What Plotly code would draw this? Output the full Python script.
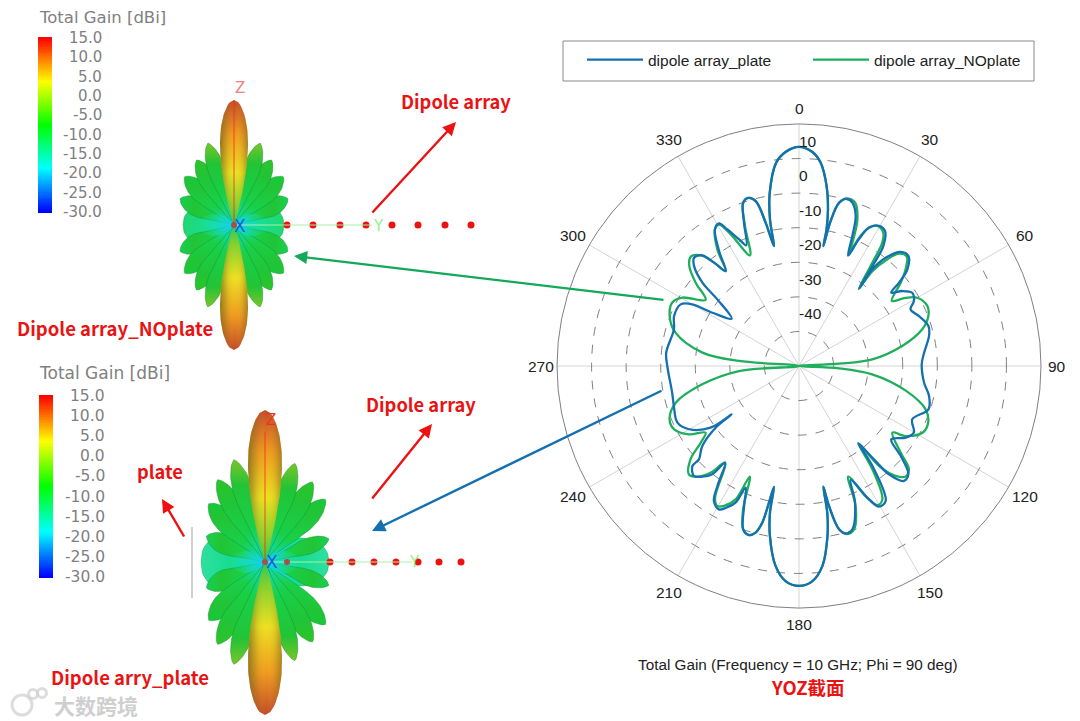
import numpy as np
import plotly.graph_objects as go

# ---------- polar cut data (theta in deg, total gain in dBi) ----------
plate_theta = [0,3.5,6.1,8.7,10.5,11.4,11.5,12.3,13.8,15.8,18.1,20.7,22.3,24,25.3,26.8,29.7,32.5,35.1,36.3,37.8,
               37.2,38.7,41.7,44.8,48.3,50.2,51.5,54,57.1,60.5,63.1,67.4,72.8,77,83.9,89.2,
               97.6,103,108.5,115.2,120.1,123.9,128.5,131.5,134.7,137.6,140.3,141.3,142.5,143.7,147.3,150.4,152.3,155.6,
               157.7,161.9,164.2,166.2,167.9,168.6,169.1,170.5,173.3,176.5,180,
               183.5,186.7,189.7,191.2,191.7,193.2,194.6,196.7,198.9,201.4,203.7,204.9,207.2,209.2,212.2,214.2,217.4,
               218.7,221.1,223.7,226.8,227,230.4,233.5,234.3,235.1,240.1,245,252.3,258,270,
               275.7,286.3,291.8,297.5,300,301.6,305.1,309.2,310.8,313.6,315.9,318.9,320.6,322.3,325.2,328.4,330.7,332.3,334.7,336.4,
               339,341.1,343.2,345.3,346.9,348.2,348.8,350.4,353.6,356.5,360]
plate_gain = [13.4,12.1,9.1,2.7,-4,-9.7,-14.6,-7.1,-1.4,0.3,-0.3,-3.6,-9.3,-15,-9.5,-5.2,-3.3,-3.7,-7.6,-14.1,-21.7,
              -14.9,-9.9,-5.8,-5.1,-8,-12.3,-15.9,-13.1,-11,-11.8,-13.8,-12.4,-10.8,-11.4,-13.6,-14.5,
              -13.5,-11.4,-10.5,-13.8,-11.6,-12.8,-15.9,-10.7,-5.5,-5,-9.3,-16,-21.8,-14.1,-3.6,-3.2,-6.4,-13.8,
              -7.3,-0.3,0.3,-1.4,-8.6,-14.4,-6.8,-0.1,8.2,12.4,13.6,
              12.4,8.2,-0.1,-6.8,-14.3,-3.4,-0.2,1,-0.1,-6.5,-11.6,-6.4,-3.9,-2.5,-3.8,-8,-14.8,
              -9.9,-7.5,-6,-7.7,-10.4,-13.7,-20,-26,-18.8,-13.3,-11.2,-12,-12.5,-11.9,
              -11.4,-12.3,-11.1,-11.4,-14.3,-20.6,-26.2,-19.5,-13.1,-8.1,-6.4,-7.5,-11.3,-15.3,-9.5,-3.6,-2.7,-5.4,-9.5,-11.9,
              -5.6,-0.1,0.8,-0.7,-7.4,-14.6,-6.8,0.8,9.2,12.1,13.4]

noplate_theta = [0,3.5,6.1,8.7,10.5,11.4,11.5,12.3,13.8,16.1,18.9,21.7,23.4,24,25.1,26.8,29.2,32.3,34,35.4,37.8,
                 37.7,39.6,41.7,44.6,47.8,50.7,55,57.4,60,65,68.9,73.4,79,84.8,86.7,90,
                 93.3,96.5,103,108.9,113.7,118.4,123.3,125.5,130.4,133.2,136,138.7,141.3,142.5,144.6,148,150.6,152.9,156,
                 158,161.4,164,166.2,167.9,168.6,169.1,170.5,173.3,176.5,180,
                 183.5,186.7,189.7,191.2,191.7,193.2,194.6,196.7,198.9,201.3,204,205.4,208.2,210.3,212.5,217.4,
                 219.6,222.6,225.4,229.3,232,234.5,238.2,243.1,247.6,253.4,259.3,265.2,270,
                 274.8,277.9,285.1,291.1,296.6,300.4,305.3,308.9,312.3,315.3,318.4,320.6,322.3,325,328.4,330.5,332.6,336.1,
                 338.9,341.1,343.2,345.3,346.9,348.2,348.8,350.4,353.6,356.5,360]
noplate_gain = [13.4,12.1,9.1,2.7,-4,-9.7,-14.6,-7.1,-1.4,0.4,0,-4.3,-11.1,-15,-9,-5.2,-3.6,-4.4,-6.9,-13.4,-21.7,
                -15.3,-10,-6.5,-5.6,-8.4,-12,-17.2,-13.4,-10.5,-9,-9.9,-12.8,-19.6,-28.7,-38.4,-50,
                -38.4,-28.7,-18.3,-11.3,-9.2,-9.4,-13.1,-16.8,-11.4,-6.4,-5.6,-7.7,-13,-21.8,-13.4,-4.5,-3.8,-7.7,-15,
                -6.3,-0.1,0.6,-1.4,-8.6,-14.4,-6.8,-0.1,8.2,12.4,13.6,
                12.4,8.2,-0.1,-6.8,-14.3,-3.4,-0.2,1,-0.1,-5.5,-15,-7.3,-4.1,-3.1,-4.8,-14.8,
                -10,-6.5,-5.3,-8.6,-13.9,-16.8,-12.5,-9.5,-9.5,-12.8,-21.5,-32.6,-50,
                -32.6,-21.8,-13,-9.9,-9,-10.9,-16.9,-11.6,-7.1,-5.5,-7.2,-11.3,-15.3,-8.8,-3.6,-3,-7.1,-15,
                -6.6,-0.1,0.8,-0.7,-7.4,-14.6,-6.8,0.8,9.2,12.1,13.4]

radial_ticks = [10, 0, -10, -20, -30, -40]
angle_ticks = list(range(0, 360, 30))
series_names = ["dipole array_plate", "dipole array_NOplate"]

# ---------- colour legends of the 3D views ----------
gain_ticks = ["15.0","10.0","5.0","0.0","-5.0","-10.0","-15.0","-20.0","-25.0","-30.0"]
gain_levels = np.arange(-30, 15.5, 0.5)

# ---------- 3D lobes: angle from +Z (deg), length, half width ----------
upper_lobes = [(17.7,86,8.5),(30,75,9),(45.6,69,9.5),(64,60,9.5)]
lower_lobes_r = [(16.9,103,9.5),(30.7,93,10),(44,87,10),(70,68,8)]
lower_lobes_l = [(17,107,10),(30,95,10),(44,81,11),(66,64,10)]

BLUE = "#1470b0"; GREEN = "#1fae5c"; RED = "#e81414"; GREY = "#808080"
JET = [[0,"#0000ff"],[0.25,"#00ffff"],[0.5,"#00ff00"],[0.75,"#ffff00"],[1,"#ff0000"]]
LOBE_COLS = ["#7cc428", "#2cc428", "#18c838", "#18d050"]

fig = go.Figure()
px = dict(xaxis="x", yaxis="y", hoverinfo="skip", showlegend=False)


def outline(cx, cy, ang, L, W, p=1.9, q=0.7):
    t = np.linspace(0, 1, 50)
    hw = W * np.sin(np.pi * t ** p) ** q
    s = np.r_[L * t, L * t[::-1]]
    n = np.r_[hw, -hw[::-1]]
    a = np.radians(ang)
    return cx + s * np.sin(a) + n * np.cos(a), cy - s * np.cos(a) + n * np.sin(a)


def lobe(cx, cy, ang, L, W, stops, p=1.9, q=0.7, edge=0.0):
    x, y = outline(cx, cy, ang, L, W, p, q)
    a = np.radians(ang)
    if abs(np.cos(a)) > 0.6:
        grad = dict(type="vertical", start=cy, stop=cy - L * np.cos(a), colorscale=stops)
    else:
        grad = dict(type="horizontal", start=cx, stop=cx + L * np.sin(a), colorscale=stops)
    fig.add_trace(go.Scatter(x=x, y=y, mode="lines", line=dict(width=edge, color="rgba(15,140,50,0.6)"),
                             fill="toself", fillgradient=grad, **px))


def beam(cx, cy, direction, L, W):
    ang = 0 if direction > 0 else 180
    stops = [[0, "#28c858"], [0.14, "#7cd030"], [0.42, "#ece022"], [0.72, "#f09a20"], [1, "#c24a2a"]]
    lobe(cx, cy, ang, L, W, stops, p=1.6, q=0.5)
    x, y = outline(cx, cy, ang, L, W, 1.6, 0.5)
    shade = [[0, "rgba(110,100,30,0.7)"], [0.3, "rgba(120,110,30,0.12)"], [0.55, "rgba(255,255,60,0)"],
             [0.8, "rgba(120,110,30,0.15)"], [1, "rgba(110,100,30,0.55)"]]
    fig.add_trace(go.Scatter(x=x, y=y, mode="lines", line=dict(width=0), fill="toself",
                             fillgradient=dict(type="horizontal", start=cx - W, stop=cx + W, colorscale=shade), **px))


def pattern(cx, cy, right, left, tipL, tipW, sides):
    # broad side lobes first
    for sgn, (reach, hw, colr) in zip((1, -1), sides):
        lobe(cx, cy, 90 * sgn, reach, hw, [[0, "#10d8e0"], [0.55, "#18dc90"], [1, colr]], p=1.2, q=0.4, edge=0.6)
    for tbl, sgn in ((right, 1), (left, -1)):
        for i in range(len(tbl) - 1, -1, -1):
            ang, L, W = tbl[i]
            st = [[0, "#14dcd0"], [0.35, "#18d048"], [0.75, "#22c436"], [1, LOBE_COLS[i]]]
            lobe(cx, cy, sgn * ang, L, W, st, edge=0.7)
            lobe(cx, cy, 180 - sgn * ang, L, W, st, edge=0.7)
    for sgn in (1, -1):
        lobe(cx, cy, 90 * sgn, 36, 11, [[0, "#10d0f0"], [1, "rgba(30,230,150,0)"]], p=1.1, q=0.6)
    beam(cx, cy, 1, tipL[0], tipW)
    beam(cx, cy, -1, tipL[1], tipW)


# upper pattern (no plate)
pattern(234, 225, upper_lobes, upper_lobes, (125, 125), 14, [(50, 20, "#20d870"), (51, 20, "#20d870")])
# lower pattern (plate)
pattern(265, 562, lower_lobes_r, lower_lobes_l, (152, 153), 17, [(64, 24, "#2ee0a0"), (64, 29, "#2ee0a0")])

# antenna axes and elements
upper_dots_x = [287, 313, 340, 366, 392, 418, 445, 471]
lower_dots_x = [330, 352, 374, 396, 418, 439, 461]
for xs, yy in ((upper_dots_x, 225), (lower_dots_x, 562)):
    fig.add_trace(go.Scatter(x=xs, y=[yy] * len(xs), mode="markers",
                             marker=dict(color="#ee1111", size=7), **px))
fig.add_trace(go.Scatter(x=[234, 372], y=[225, 225], mode="lines", line=dict(color="#a8f0a8", width=1), **px))
fig.add_trace(go.Scatter(x=[265, 412], y=[562, 562], mode="lines", line=dict(color="#a8f0a8", width=1), **px))
fig.add_trace(go.Scatter(x=[234, 234], y=[225, 100], mode="lines", line=dict(color="rgba(235,50,30,0.8)", width=1), **px))
fig.add_trace(go.Scatter(x=[265, 265], y=[562, 432], mode="lines", line=dict(color="rgba(235,50,30,0.8)", width=1), **px))
fig.add_trace(go.Scatter(x=[234, 265, 287], y=[225, 562, 562], mode="markers",
                         marker=dict(color="#a85048", size=6), **px))
# plate
fig.add_trace(go.Scatter(x=[192, 192], y=[527, 598], mode="lines", line=dict(color="#c0c0c0", width=1.5), **px))
# watermark logo
fig.add_trace(go.Scatter(x=[33, 42, 22], y=[694, 693, 705], mode="markers",
                         marker=dict(symbol="circle-open", size=[9, 9, 20], color="#cfcfcf", line=dict(width=3)), **px))

# colour bars
for x0, y0, y1 in ((38, 38, 212), (39, 396, 577)):
    fig.add_trace(go.Heatmap(x=[x0, x0 + 14], y=np.linspace(y1, y0, len(gain_levels)), z=gain_levels[:, None],
                             colorscale=JET, zmin=-30, zmax=15, showscale=False,
                             xaxis="x", yaxis="y", hoverinfo="skip"))

# polar traces (green below blue, as in the picture)
fig.add_trace(go.Scatterpolar(theta=noplate_theta, r=noplate_gain, mode="lines", name=series_names[1],
                              line=dict(color=GREEN, width=2.3, shape="spline", smoothing=1.0), hoverinfo="skip"))
fig.add_trace(go.Scatterpolar(theta=plate_theta, r=plate_gain, mode="lines", name=series_names[0],
                              line=dict(color=BLUE, width=2.3, shape="spline", smoothing=1.0), hoverinfo="skip"))
fig.add_trace(go.Scatterpolar(theta=[0] * len(radial_ticks), r=[v + 4.6 for v in radial_ticks],
                              text=[str(v) for v in radial_ticks], mode="text", textposition="middle right",
                              textfont=dict(family="Liberation Sans", size=15.5, color="#222222"),
                              showlegend=False, hoverinfo="skip"))

W, H = 1080, 721
annotations = []


def txt(x, y, s, size, color, family="Noto Sans CJK SC", bold=False, anchor="center"):
    annotations.append(dict(x=x, y=y, xref="x", yref="y", text=f"<b>{s}</b>" if bold else s, showarrow=False,
                            xanchor=anchor, yanchor="middle", font=dict(family=family, size=size, color=color)))


def arrow(tail, tip, color, width=2.4):
    annotations.append(dict(x=tip[0], y=tip[1], ax=tail[0], ay=tail[1], xref="x", yref="y", axref="x", ayref="y",
                            text="", showarrow=True, arrowhead=2, arrowsize=1.1, arrowwidth=width, arrowcolor=color))


for i, s in enumerate(gain_ticks):
    txt(104, 38 + i * (212 - 38) / 9, s, 15, GREY, "DejaVu Sans", anchor="right")
    txt(107, 396 + i * (577 - 396) / 9, s, 15.5, GREY, "DejaVu Sans", anchor="right")
for a in angle_ticks:
    R = 258 if a % 90 == 0 else 261
    txt(799 + R * np.sin(np.radians(a)), 366 - R * np.cos(np.radians(a)), str(a), 15.5, "#222222", "Liberation Sans")
txt(37, 17, "Total Gain [dBi]", 16.5, GREY, "DejaVu Sans", anchor="left")
txt(37, 373, "Total Gain [dBi]", 17, GREY, "DejaVu Sans", anchor="left")
txt(456, 101, "Dipole array", 18.3, RED, bold=True)
txt(115, 328, "Dipole array_NOplate", 18.5, RED, bold=True)
txt(421, 404, "Dipole array", 18.3, RED, bold=True)
txt(160, 471, "plate", 18.3, RED, bold=True)
txt(130, 677, "Dipole arry_plate", 18.5, RED, bold=True)
txt(798, 664, "Total Gain (Frequency = 10 GHz; Phi = 90 deg)", 15.3, "#222222", "Liberation Sans")
txt(808, 687, "YOZ截面", 18.5, RED, bold=True)
txt(96, 705, "大数跨境", 21, "#cfcfcf", bold=True)
txt(240, 88, "Z", 15, "#f08080", "DejaVu Sans")
txt(271, 420, "Z", 15, "#ee3322", "DejaVu Sans")
txt(240, 226, "X", 17, "#1060e0", "DejaVu Sans")
txt(272, 562, "X", 17, "#1060e0", "DejaVu Sans")
txt(378, 226, "Y", 15, "#90f090", "DejaVu Sans")
txt(414, 562, "Y", 15, "#90f090", "DejaVu Sans")

arrow((371, 214), (456, 122), "#ee1111")
arrow((371, 500), (432, 424), "#ee1111")
arrow((185, 538), (162, 499), "#ee1111")
arrow((665, 300), (294, 256), "#13a85a")
arrow((663, 390), (372, 531), BLUE)

fig.update_layout(
    width=W, height=H, margin=dict(l=0, r=0, t=0, b=0), paper_bgcolor="white", plot_bgcolor="rgba(0,0,0,0)",
    showlegend=True,
    xaxis=dict(range=[0, W], visible=False, domain=[0, 1], fixedrange=True),
    yaxis=dict(range=[H, 0], visible=False, domain=[0, 1], fixedrange=True),
    polar=dict(
        domain=dict(x=[557 / W, 1041 / W], y=[(H - 608) / H, (H - 124) / H]),
        bgcolor="rgba(0,0,0,0)",
        radialaxis=dict(range=[-50, 20], tickvals=radial_ticks, showticklabels=False, ticks="", showline=False,
                        gridcolor="#808080", griddash="dash", gridwidth=1),
        angularaxis=dict(direction="clockwise", rotation=90, tickvals=angle_ticks, ticks="", showticklabels=False,
                         gridcolor="#d4d4d4", gridwidth=1, linecolor="#808080", linewidth=1),
    ),
    legend=dict(orientation="h", x=582 / W, y=1 - 43 / H, xanchor="left", yanchor="top", traceorder="reversed",
                itemwidth=56, entrywidth=155, entrywidthmode="pixels", bgcolor="rgba(0,0,0,0)",
                font=dict(family="Liberation Sans", size=15.5, color="#222222")),
    shapes=[dict(type="rect", xref="x", yref="y", x0=563, x1=1034, y0=41, y1=81,
                 line=dict(color="#8a8a8a", width=1), layer="below")],
    annotations=annotations,
)

fig.write_html("out.html", config={"displayModeBar": False}, post_script="document.body.style.margin='0';")
